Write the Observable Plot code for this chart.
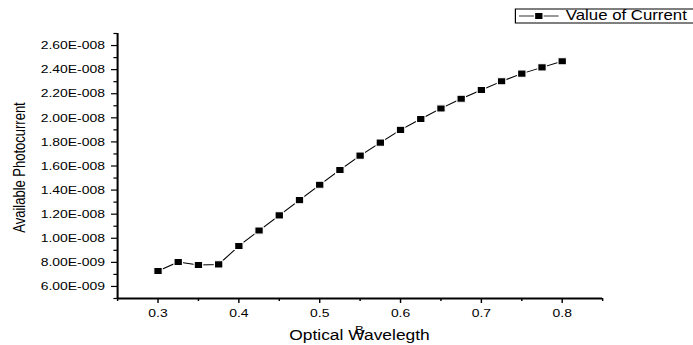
<!DOCTYPE html>
<html>
<head>
<meta charset="utf-8">
<script src="https://cdn.jsdelivr.net/npm/d3@7"></script>
<script src="https://cdn.jsdelivr.net/npm/@observablehq/plot@0.6"></script>
<style>
  html, body { margin: 0; padding: 0; background: white; }
  #chart { width: 693px; height: 345px; overflow: hidden; }
</style>
</head>
<body>
<div id="chart"></div>
<script>
// ---- data ----
const wavelength = [0.3, 0.325, 0.35, 0.375, 0.4, 0.425, 0.45, 0.475, 0.5, 0.525, 0.55,
  0.575, 0.6, 0.625, 0.65, 0.675, 0.7, 0.725, 0.75, 0.775, 0.8];
const current = [7.28e-9, 8.03e-9, 7.78e-9, 7.83e-9, 9.36e-9, 1.064e-8, 1.19e-8, 1.317e-8,
  1.444e-8, 1.567e-8, 1.686e-8, 1.794e-8, 1.90e-8, 1.99e-8, 2.078e-8, 2.158e-8, 2.231e-8,
  2.303e-8, 2.367e-8, 2.419e-8, 2.469e-8];

const xTicks = [0.3, 0.4, 0.5, 0.6, 0.7, 0.8];
const xMinorTicks = [0.25, 0.35, 0.45, 0.55, 0.65, 0.75, 0.85];
const yTicks = [6e-9, 8e-9, 1e-8, 1.2e-8, 1.4e-8, 1.6e-8, 1.8e-8, 2e-8, 2.2e-8, 2.4e-8, 2.6e-8];
const yMinorTicks = [5e-9, 7e-9, 9e-9, 1.1e-8, 1.3e-8, 1.5e-8, 1.7e-8, 1.9e-8, 2.1e-8, 2.3e-8, 2.5e-8, 2.7e-8];

const seriesName = "Value of Current";
const xLabel = "Optical Wavelegth";
const yLabel = "Available Photocurrent";
const columnTag = "B";

const data = wavelength.map((x, i) => ({x, y: current[i]}));

function sci(d) {
  const e = Math.floor(Math.log10(d) + 1e-9);
  const m = d / Math.pow(10, e);
  return m.toFixed(2) + "E" + (e < 0 ? "-" : "+") + String(Math.abs(e)).padStart(3, "0");
}

// logical width; the picture is stretched horizontally by 1.2 like the reference
const W = 577.5, H = 345;

const chart = Plot.plot({
  width: W,
  height: H,
  marginLeft: 97.5,
  marginRight: 75.8,
  marginTop: 33,
  marginBottom: 47,
  style: {fontFamily: "'Liberation Sans', Arial, sans-serif", fontSize: "11.6px", background: "white", color: "black"},
  x: {domain: [0.25, 0.85]},
  y: {domain: [5e-9, 2.7e-8]},
  marks: [
    Plot.axisX({ticks: xTicks, tickSize: 5, tickPadding: 5, tickFormat: d => String(d), label: null, strokeWidth: 1.2}),
    Plot.axisX({ticks: xMinorTicks, tickSize: 3, tickFormat: () => "", label: null, strokeWidth: 1.2}),
    Plot.axisY({ticks: yTicks, tickSize: 5, tickPadding: 5.6, tickFormat: sci, label: null, strokeWidth: 1.2}),
    Plot.axisY({ticks: yMinorTicks, tickSize: 3, tickFormat: () => "", label: null, strokeWidth: 1.2}),
    Plot.ruleX([0.25], {stroke: "black", strokeWidth: 1.7}),
    Plot.ruleY([5e-9], {stroke: "black", strokeWidth: 2}),
    Plot.line(data, {x: "x", y: "y", stroke: "black", strokeWidth: 1}),
    Plot.dot(data, {x: "x", y: "y", symbol: "square", r: 4, fill: "black", stroke: "white", strokeWidth: 1})
  ]
});

const svg = d3.select(chart);
svg.attr("width", 693).attr("height", 345).attr("preserveAspectRatio", "none")
  .style("width", "693px").style("height", "345px").style("max-width", "none");

const font = "'Liberation Sans', Arial, sans-serif";

// axis titles
svg.append("text")
  .attr("x", 299.6).attr("y", 340)
  .attr("text-anchor", "middle")
  .style("font-family", font).style("font-size", "14.5px").attr("fill", "black")
  .text(xLabel);

svg.append("text")
  .attr("x", 299.6).attr("y", 334)
  .attr("text-anchor", "middle")
  .style("font-family", font).style("font-size", "11px").attr("fill", "black")
  .text(columnTag);

svg.append("text")
  .attr("transform", "translate(20.6,167.5) rotate(-90)")
  .attr("text-anchor", "middle")
  .style("font-family", font).style("font-size", "13px").attr("fill", "black")
  .text(yLabel);

// legend
const lg = svg.append("g");
lg.append("rect")
  .attr("x", 429.5).attr("y", 9).attr("width", 160).attr("height", 14)
  .attr("fill", "white").attr("stroke", "black").attr("stroke-width", 1);
lg.append("line")
  .attr("x1", 432.5).attr("x2", 465.5).attr("y1", 16).attr("y2", 16)
  .attr("stroke", "#333").attr("stroke-width", 1);
lg.append("path")
  .attr("d", d3.symbol(d3.symbolSquare, Math.PI * 4 * 4)())
  .attr("transform", "translate(449,16)")
  .attr("fill", "black").attr("stroke", "white").attr("stroke-width", 1);
lg.append("text")
  .attr("x", 471.5).attr("y", 20.5)
  .attr("text-anchor", "start")
  .style("font-family", font).style("font-size", "14px").attr("fill", "black")
  .text(seriesName);

document.getElementById("chart").appendChild(chart);
</script>
</body>
</html>
